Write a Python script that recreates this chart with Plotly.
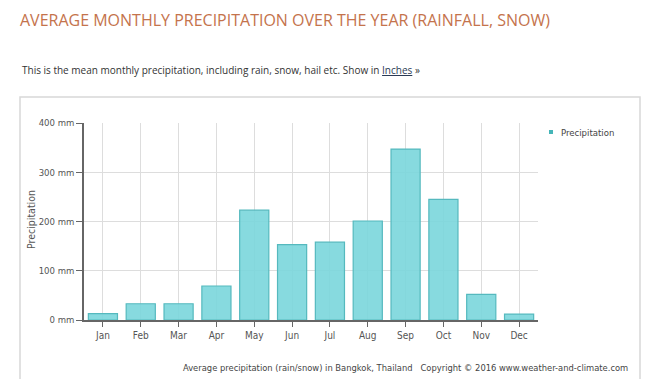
import plotly.graph_objects as go

months = ["Jan", "Feb", "Mar", "Apr", "May", "Jun", "Jul", "Aug", "Sep", "Oct", "Nov", "Dec"]
precip_mm = [13, 33, 33, 69, 223, 153, 158, 201, 347, 245, 52, 12]
y_ticks = [0, 100, 200, 300, 400]
y_tick_labels = ["0 mm", "100 mm", "200 mm", "300 mm", "400 mm"]

OFF = 8  # page body margin
W, H = 650 - OFF, 379 - OFF
L, R, T, B = 84 - OFF, 538 - OFF, 123 - OFF, 320 - OFF

def px(x):
    return (x - OFF - L) / (R - L)

def py(y):
    return (B - (y - OFF)) / (B - T)

fig = go.Figure()
fig.add_trace(go.Bar(
    x=months, y=precip_mm, name="Precipitation",
    marker=dict(color="rgba(122,214,219,0.9)", line=dict(color="#55b9be", width=1.2)),
    width=0.77, showlegend=False,
))

cond = "DejaVu Sans Condensed, Open Sans"

fig.update_layout(
    width=W, height=H,
    margin=dict(l=L, r=W - R, t=T, b=H - B, autoexpand=False),
    paper_bgcolor="white", plot_bgcolor="white",
    font=dict(family="Open Sans, sans-serif", color="#444"),
    xaxis=dict(
        showline=True, linecolor="#666", linewidth=1.5,
        ticks="outside", ticklen=5, tickcolor="#666",
        showgrid=True, gridcolor="#dddddd", gridwidth=1,
        tickfont=dict(size=10, color="#555", family=cond),
        fixedrange=True, automargin=False,
    ),
    yaxis=dict(
        range=[0, 400], tickvals=y_ticks, ticktext=y_tick_labels,
        showline=True, linecolor="#666", linewidth=1.5,
        ticks="outside", ticklen=6, tickcolor="#666",
        showgrid=True, gridcolor="#dddddd", gridwidth=1,
        tickfont=dict(size=9.5, color="#555", family=cond),
        zeroline=False, automargin=False,
    ),
    showlegend=False,
)

# container box
fig.add_shape(type="rect", xref="paper", yref="paper",
              x0=px(20), x1=px(640), y0=py(395), y1=py(97),
              line=dict(color="#d8d8d8", width=1.5), fillcolor="rgba(0,0,0,0)", layer="below")

# y axis title
fig.add_annotation(xref="paper", yref="paper", x=px(31), y=py(220), text="Precipitation",
                   textangle=-90, showarrow=False, xanchor="center", yanchor="middle",
                   font=dict(size=10.5, color="#555", family=cond))

# legend (custom)
fig.add_shape(type="rect", xref="paper", yref="paper",
              x0=px(549), x1=px(553), y0=py(134), y1=py(130),
              line=dict(width=0), fillcolor="#45b5b8")
fig.add_annotation(xref="paper", yref="paper", x=px(559), y=py(132), text="Precipitation",
                   showarrow=False, xanchor="left", yanchor="middle",
                   font=dict(size=9.5, color="#444", family=cond))

# titles
fig.add_annotation(xref="paper", yref="paper", x=px(18), y=py(20), text="AVERAGE MONTHLY PRECIPITATION OVER THE YEAR (RAINFALL, SNOW)",
                   showarrow=False, xanchor="left", yanchor="middle",
                   font=dict(size=16, color="#c4734c", family="Open Sans"))
fig.add_annotation(xref="paper", yref="paper", x=px(20), y=py(70),
                   text="This is the mean monthly precipitation, including rain, snow, hail etc. Show in <span style='color:#2b3a55'><u>Inches</u></span> »",
                   showarrow=False, xanchor="left", yanchor="middle",
                   font=dict(size=10, color="#333", family="Open Sans"))
fig.add_annotation(xref="paper", yref="paper", x=px(630), y=py(367),
                   text="Average precipitation (rain/snow) in Bangkok, Thailand&nbsp;&nbsp;&nbsp;Copyright © 2016 www.weather-and-climate.com",
                   showarrow=False, xanchor="right", yanchor="middle",
                   font=dict(size=9.3, color="#444", family=cond))

fig.write_html("out.html")
